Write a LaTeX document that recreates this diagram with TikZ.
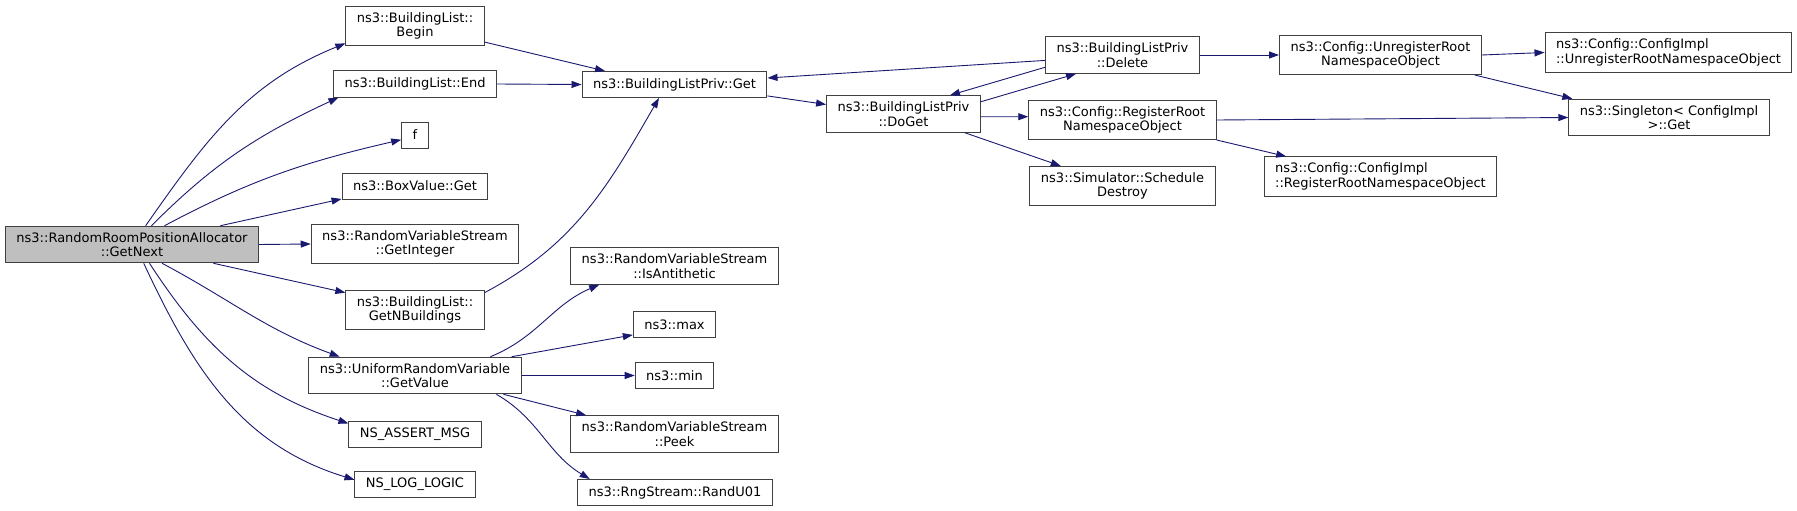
\documentclass[tikz,border=0pt]{standalone}
\usepackage{fontspec}
\setmainfont{DejaVu Sans}
\usepackage{tikz}
\usetikzlibrary{arrows.meta}
\usepackage{xcolor}
\definecolor{edgeblue}{HTML}{191970}
\definecolor{boxline}{HTML}{404040}
\definecolor{boxgray}{HTML}{BFBFBF}

\begin{document}
\begin{tikzpicture}[x=1pt,y=1pt,>={Triangle[length=10pt,width=7pt]},
  fn/.style={draw=boxline,line width=1pt,fill=white,align=center,inner xsep=11pt,inner ysep=6pt,minimum height=26pt,font=\fontsize{13}{14.5}\selectfont},
  call/.style={->,draw=edgeblue,line width=0.9pt}]
\useasboundingbox (0,0) rectangle (1797,-511);
\node[fn,fill=boxgray] (next) at (132,-244.5) {ns3::RandomRoomPositionAllocator\\::GetNext};
\node[fn] (lbegin) at (415,-26) {ns3::BuildingList::\\Begin};
\node[fn] (lend) at (415,-84) {ns3::BuildingList::End};
\node[fn] (f) at (415,-135) {f};
\node[fn] (boxget) at (415,-186) {ns3::BoxValue::Get};
\node[fn] (getint) at (415,-244) {ns3::RandomVariableStream\\::GetInteger};
\node[fn] (nbld) at (415,-310) {ns3::BuildingList::\\GetNBuildings};
\node[fn] (uval) at (415,-375.5) {ns3::UniformRandomVariable\\::GetValue};
\node[fn] (assert) at (415,-434) {NS\_ASSERT\_MSG};
\node[fn] (loglogic) at (415,-484) {NS\_LOG\_LOGIC};
\node[fn] (privget) at (674.5,-84.5) {ns3::BuildingListPriv::Get};
\node[fn] (doget) at (903.5,-114) {ns3::BuildingListPriv\\::DoGet};
\node[fn] (delete) at (1122.5,-55) {ns3::BuildingListPriv\\::Delete};
\node[fn] (regroot) at (1122.5,-120) {ns3::Config::RegisterRoot\\NamespaceObject};
\node[fn] (sched) at (1122.5,-186) {ns3::Simulator::Schedule\\Destroy};
\node[fn] (unreg) at (1380.5,-55) {ns3::Config::UnregisterRoot\\NamespaceObject};
\node[fn,align=left] (cfgunreg) at (1668.5,-52.5) {ns3::Config::ConfigImpl\\::UnregisterRootNamespaceObject};
\node[fn] (single) at (1669,-117.5) {ns3::Singleton< ConfigImpl\\ >::Get};
\node[fn,align=left] (cfgreg) at (1380.5,-176.5) {ns3::Config::ConfigImpl\\::RegisterRootNamespaceObject};
\node[fn] (anti) at (674.5,-266) {ns3::RandomVariableStream\\::IsAntithetic};
\node[fn] (max) at (674.5,-324.5) {ns3::max};
\node[fn] (min) at (674.5,-375.5) {ns3::min};
\node[fn] (peek) at (674.5,-434) {ns3::RandomVariableStream\\::Peek};
\node[fn] (rand) at (675,-492.5) {ns3::RngStream::RandU01};
\draw[call] (next.54) to[out=55,in=202] (lbegin.194);
\draw[call] (next.44) to[out=45,in=205] (lend.190);
\draw[call] (next.30) to[out=28,in=193] (f.199);
\draw[call] (next.12) -- (boxget.190);
\draw[call] (next.east) -- (getint.west);
\draw[call] (next.-13) -- (nbld.166);
\draw[call] (next.-32) to[out=-28,in=160] (uval.166);
\draw[call] (next.-47) to[out=-57,in=162] (assert.171);
\draw[call] (next.-58) to[out=-65,in=163] (loglogic.176);
\draw[call] (lbegin.-13) -- (privget.169);
\draw[call] (lend.east) -- (privget.west);
\draw[call] (nbld.14) to[out=28,in=240] (privget.221);
\draw[call] (privget.-7) -- (doget.173);
\draw[call] (doget.9) -- (delete.202);
\draw[call] (delete.184) -- (privget.4);
\draw[call] (delete.189) -- (doget.22);
\draw[call] (doget.-2) -- (regroot.178);
\draw[call] (doget.-17) -- (sched.162);
\draw[call] (delete.east) -- (unreg.west);
\draw[call] (unreg.east) -- (cfgunreg.west);
\draw[call] (unreg.-12) -- (single.169);
\draw[call] (regroot.east) -- (single.west);
\draw[call] (regroot.-12) -- (cfgreg.168);
\draw[call] (uval.14) to[out=22,in=203] (anti.194);
\draw[call] (uval.11) -- (max.194);
\draw[call] (uval.east) -- (min.west);
\draw[call] (uval.-12) -- (peek.168);
\draw[call] (uval.-13) to[out=-30,in=149] (rand.171);
\end{tikzpicture}
\end{document}
